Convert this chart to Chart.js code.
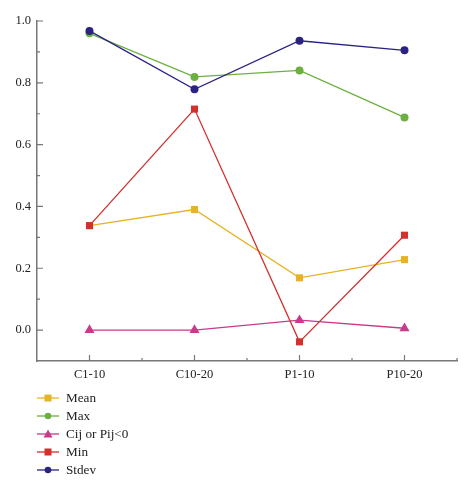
<!DOCTYPE html>
<html>
<head>
<meta charset="utf-8">
<script src="https://cdn.jsdelivr.net/npm/chart.js@4"></script>
<style>
  html, body { margin: 0; padding: 0; background: #fff; }
  #wrap { position: relative; width: 474px; height: 491px; }
  #legend { position: absolute; left: 37px; top: 389px; font-family: "Liberation Serif", serif; font-size: 13.2px; color: #222; }
  .item { display: flex; align-items: center; height: 18px; }
  .item svg { margin-right: 7px; }
</style>
</head>
<body>
<div id="wrap">
  <canvas id="chart" width="474" height="491"></canvas>
  <div id="legend"></div>
</div>
<script>
// Données
const categories = ['C1-10', 'C10-20', 'P1-10', 'P10-20'];
const meanValues = [0.338, 0.390, 0.169, 0.228];
const maxValues = [0.960, 0.819, 0.840, 0.688];
const cijValues = [0.000, 0.000, 0.032, 0.006];
const minValues = [0.338, 0.715, -0.038, 0.307];
const stdevValues = [0.968, 0.779, 0.936, 0.905];
const yTicks = [0.0, 0.2, 0.4, 0.6, 0.8, 1.0];

const series = [
    { label: 'Mean', data: meanValues, color: '#E8B226', style: 'rect', radius: 5, order: 4 },
    { label: 'Max', data: maxValues, color: '#6BB040', style: 'circle', radius: 4, order: 3 },
    { label: 'Cij or Pij<0', data: cijValues, color: '#C93A8A', style: 'triangle', radius: 5.8, order: 2 },
    { label: 'Min', data: minValues, color: '#D3302E', style: 'rect', radius: 5, order: 1 },
    { label: 'Stdev', data: stdevValues, color: '#2B2384', style: 'circle', radius: 4, order: 0 }
];

// Petits traits vers l'intérieur des axes
const innerTicks = {
    id: 'innerTicks',
    afterDraw(chart) {
        const ctx = chart.ctx;
        const x = chart.scales.x, y = chart.scales.y;
        const area = chart.chartArea;
        ctx.save();
        ctx.strokeStyle = '#777';
        ctx.lineWidth = 1.2;
        ctx.beginPath();
        for (let v = 0; v <= 10; v++) {
            const py = y.getPixelForValue(v / 10);
            const len = v % 2 === 0 ? 6 : 3;
            ctx.moveTo(area.left, py);
            ctx.lineTo(area.left + len, py);
        }
        categories.forEach((c, i) => {
            const px = x.getPixelForValue(i);
            ctx.moveTo(px, area.bottom);
            ctx.lineTo(px, area.bottom - 6);
            const bx = x.getPixelForValue(i + 0.5);
            ctx.moveTo(bx, area.bottom);
            ctx.lineTo(bx, area.bottom - 3);
        });
        ctx.stroke();
        ctx.restore();
    }
};

const serif = { family: '"Liberation Serif", serif', size: 12.5 };

const chart = new Chart(document.getElementById('chart'), {
    type: 'line',
    data: {
        labels: categories,
        datasets: series.map(s => ({
            label: s.label,
            data: s.data,
            borderColor: s.color,
            backgroundColor: s.color,
            borderWidth: 1.3,
            pointStyle: s.style,
            pointRadius: s.radius,
            pointHoverRadius: s.radius,
            pointBorderWidth: 0,
            tension: 0,
            order: s.order
        }))
    },
    options: {
        responsive: false,
        animation: false,
        layout: { padding: { top: 21, right: 17, bottom: 110, left: 0 } },
        plugins: { legend: { display: false }, tooltip: { enabled: false } },
        scales: {
            x: {
                offset: true,
                grid: { display: false, drawTicks: false },
                border: { color: '#777', width: 1.5 },
                ticks: { font: serif, color: '#222', padding: 6 },
                afterFit(scale) { scale.height = 20; }
            },
            y: {
                min: -0.1,
                max: 1.0,
                afterBuildTicks(scale) { scale.ticks = yTicks.map(v => ({ value: v })); },
                grid: { display: false, drawTicks: false },
                border: { color: '#777', width: 1.5 },
                ticks: { font: serif, color: '#222', padding: 6, callback: v => v.toFixed(1) },
                afterFit(scale) { scale.width = 37; }
            }
        }
    },
    plugins: [innerTicks]
});

// Légende verticale en HTML
function markerSvg(s) {
    let shape;
    if (s.style === 'circle') shape = `<circle cx="11" cy="6" r="3.3" fill="${s.color}"/>`;
    else if (s.style === 'rect') shape = `<rect x="7.5" y="2.5" width="7" height="7" fill="${s.color}"/>`;
    else shape = `<polygon points="11,1.5 15.5,9.5 6.5,9.5" fill="${s.color}"/>`;
    return `<svg width="22" height="12"><line x1="0" y1="6" x2="22" y2="6" stroke="${s.color}" stroke-width="1.3"/>${shape}</svg>`;
}
document.getElementById('legend').innerHTML = series
    .map(s => `<div class="item">${markerSvg(s)}<span>${s.label}</span></div>`)
    .join('');
</script>
</body>
</html>
